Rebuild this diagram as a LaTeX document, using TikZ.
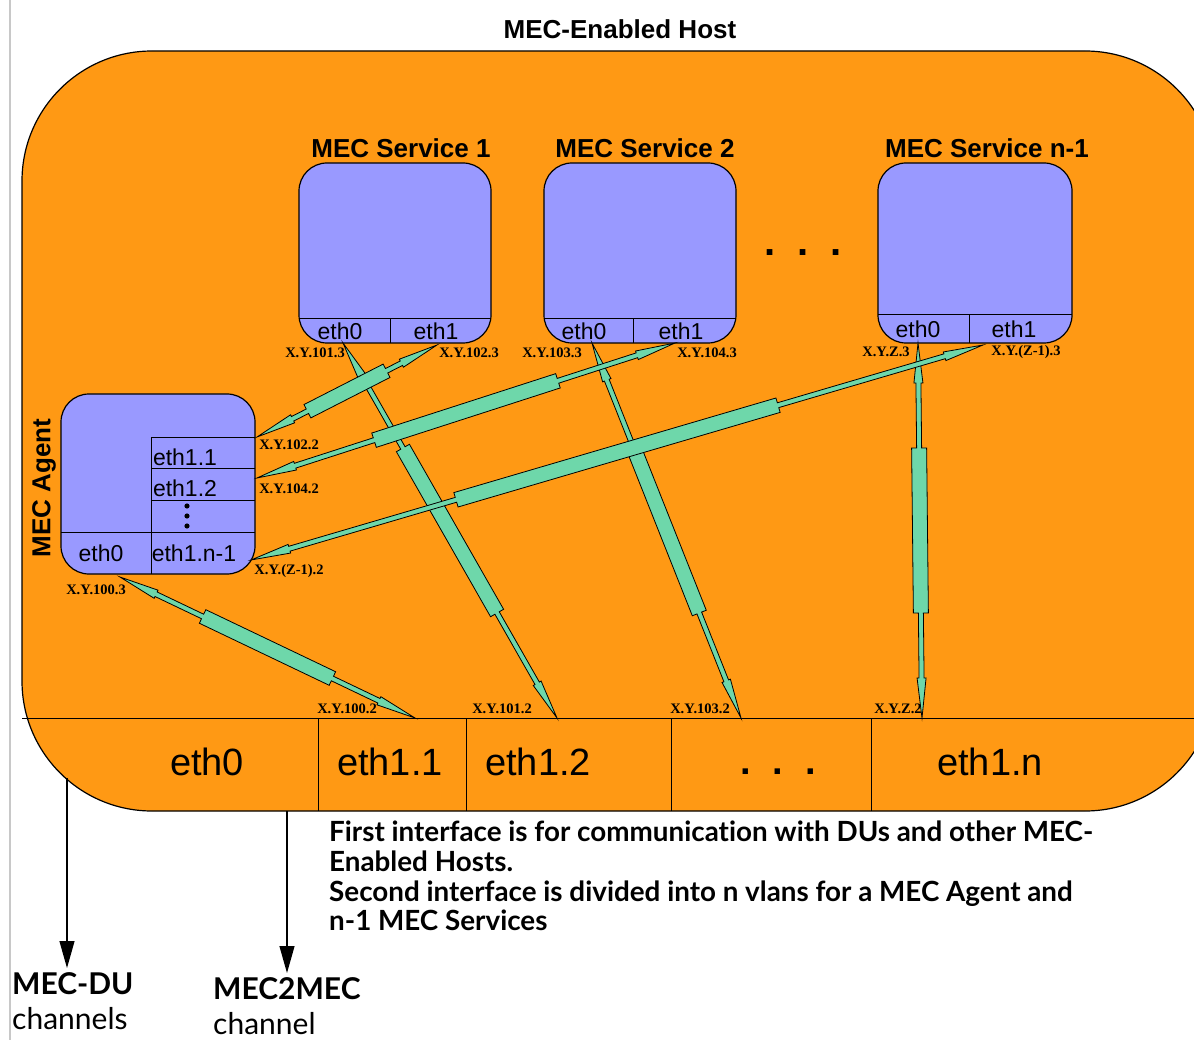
\documentclass[tikz,border=0pt]{standalone}
\usepackage{fontspec}
\setmainfont{Liberation Sans}
\newfontfamily\labfont{Liberation Serif}
\newfontfamily\latofont[Ligatures=NoCommon]{Lato}
\usetikzlibrary{calc,arrows.meta}
\definecolor{hostorange}{RGB}{255,153,20}
\definecolor{boxblue}{RGB}{153,153,255}
\definecolor{cablegreen}{RGB}{110,215,170}
\definecolor{pagegray}{RGB}{200,200,200}
\newcommand\mecCable[2]{%
  \draw[cablestyle] (#1)
   -- ($(#1)!40pt!(#2)!4.5pt!90:(#2)$)
   -- ($(#1)!40pt!(#2)!2.5pt!90:(#2)$)
   -- ($(#1)!0.28!(#2)!2.5pt!90:(#2)$)
   -- ($(#1)!0.28!(#2)!7.5pt!90:(#2)$)
   -- ($(#1)!0.72!(#2)!7.5pt!90:(#2)$)
   -- ($(#1)!0.72!(#2)!2.5pt!90:(#2)$)
   -- ($(#2)!40pt!(#1)!2.5pt!-90:(#1)$)
   -- ($(#2)!40pt!(#1)!4.5pt!-90:(#1)$)
   -- (#2)
   -- ($(#2)!40pt!(#1)!4.5pt!90:(#1)$)
   -- ($(#2)!40pt!(#1)!2.5pt!90:(#1)$)
   -- ($(#1)!0.72!(#2)!2.5pt!-90:(#2)$)
   -- ($(#1)!0.72!(#2)!7.5pt!-90:(#2)$)
   -- ($(#1)!0.28!(#2)!7.5pt!-90:(#2)$)
   -- ($(#1)!0.28!(#2)!2.5pt!-90:(#2)$)
   -- ($(#1)!40pt!(#2)!2.5pt!-90:(#2)$)
   -- ($(#1)!40pt!(#2)!4.5pt!-90:(#2)$)
   -- cycle;}
\tikzset{
  cablestyle/.style={fill=cablegreen, draw=black, line width=0.8pt, line join=miter},
  svcbox/.style={draw=black, line width=1.2pt, fill=boxblue, rounded corners=28pt, minimum height=180pt, inner sep=0pt},
  boxtitle/.style={font=\bfseries\fontsize{26}{30}\selectfont, inner sep=0pt},
  ethsmall/.style={font=\fontsize{23}{26}\selectfont, inner sep=0pt},
  ethbig/.style={font=\fontsize{38}{42}\selectfont, inner sep=0pt},
  addr/.style={font=\labfont\bfseries\fontsize{14.5}{16}\selectfont, inner sep=0pt},
  cellline/.style={draw=black, line width=1pt},
  chanarrow/.style={draw=black, line width=1.2pt, -{Triangle[width=15pt,length=27pt]}},
}
\begin{document}
\begin{tikzpicture}[x=1pt,y=-1pt]
\useasboundingbox (0,0) rectangle (1194,1040);
\clip (0,0) rectangle (1194,1040);
\fill[white] (0,0) rectangle (1194,1040);
\draw[pagegray, line width=1.5pt] (10,0) -- (10,1040);

% host
\draw[fill=hostorange, line width=1.2pt, rounded corners=130pt] (22,51) rectangle (1215,811);
\node[boxtitle] (title) at (620,29) {MEC-Enabled Host};

% bottom interface row
\draw[cellline] (22,718) -- (1194,718);
\foreach \xx in {318,466,671,871} \draw[cellline] (\xx,718) -- (\xx,811);
\node[ethbig] (heth0) at (207,762) {eth0};
\node[ethbig] (heth11) at (390,762) {eth1.1};
\node[ethbig] (heth12) at (538,762) {eth1.2};
\node[font=\bfseries\fontsize{38}{42}\selectfont, inner sep=0pt, anchor=base] (hdots) at (778,774) {.\kern22pt.\kern22pt.};
\node[ethbig] (heth1n) at (990,762) {eth1.n};

% services
\node[svcbox, minimum width=192pt] (s1) at (395,253) {};
\node[svcbox, minimum width=192pt] (s2) at (640,253) {};
\node[svcbox, minimum width=194pt] (sn) at (975,253) {};
\node[boxtitle] at (401,148) {MEC Service 1};
\node[boxtitle] at (645,148) {MEC Service 2};
\node[boxtitle] at (987,148) {MEC Service n-1};
\node[font=\bfseries\fontsize{40}{42}\selectfont, inner sep=0pt, anchor=base] (sdots) at (803,256) {.\kern22pt.\kern22pt.};

\begin{scope}
\clip[rounded corners=28pt] (299,163) rectangle (491,343);
\draw[cellline] (299,319) -- (491,319); \draw[cellline] (390,319) -- (390,343);
\end{scope}
\begin{scope}
\clip[rounded corners=28pt] (544,163) rectangle (736,343);
\draw[cellline] (544,319) -- (736,319); \draw[cellline] (633,319) -- (633,343);
\end{scope}
\begin{scope}
\clip[rounded corners=28pt] (878,163) rectangle (1072,343);
\draw[cellline] (878,315) -- (1072,315); \draw[cellline] (969,315) -- (969,343);
\end{scope}
\node[ethsmall] (s1e0) at (340,331) {eth0};
\node[ethsmall] (s1e1) at (436,331) {eth1};
\node[ethsmall] (s2e0) at (584,331) {eth0};
\node[ethsmall] (s2e1) at (681,331) {eth1};
\node[ethsmall] (sne0) at (918,329) {eth0};
\node[ethsmall] (sne1) at (1014,329) {eth1};

% agent
\node[svcbox, minimum width=194pt] (ag) at (158,484) {};
\begin{scope}
\clip[rounded corners=28pt] (61,394) rectangle (255,574);
\draw[cellline] (151,437) -- (255,437);
\draw[cellline] (151,468) -- (255,468);
\draw[cellline] (151,500) -- (255,500);
\draw[cellline] (61,532) -- (255,532);
\draw[cellline] (151,437) -- (151,574);
\end{scope}
\node[ethsmall] (ae11) at (185,457) {eth1.1};
\node[ethsmall] (ae12) at (185,488) {eth1.2};
\foreach \yy in {506,516,526} \fill (187,\yy) circle (2.6pt);
\node[ethsmall] (ae1n) at (194,553) {eth1.n-1};
\node[ethsmall] (ae0) at (101,553) {eth0};
\node[boxtitle, rotate=90] (agt) at (44,488) {MEC Agent};

% cable end points
\coordinate (ca0) at (120,577);  \coordinate (cb0) at (415,718);
\coordinate (c11a) at (343,343); \coordinate (c11b) at (557,718);
\coordinate (c12a) at (437,345); \coordinate (c12b) at (257,437);
\coordinate (c21a) at (592,343); \coordinate (c21b) at (741,718);
\coordinate (c22a) at (675,343); \coordinate (c22b) at (257,478);
\coordinate (cn1a) at (918,343); \coordinate (cn1b) at (922,718);
\coordinate (cn2a) at (983,345); \coordinate (cn2b) at (251,560);

\mecCable{ca0}{cb0}
\mecCable{c11a}{c11b}
\mecCable{c21a}{c21b}
\mecCable{cn1a}{cn1b}
\mecCable{c12a}{c12b}
\mecCable{c22a}{c22b}
\mecCable{cn2a}{cn2b}

% address labels
\node[addr] at (315,353) {X.Y.101.3};
\node[addr] at (469,353) {X.Y.102.3};
\node[addr] at (552,353) {X.Y.103.3};
\node[addr] at (707,353) {X.Y.104.3};
\node[addr] at (886,352) {X.Y.Z.3};
\node[addr] at (1026,352) {X.Y.(Z-1).3};
\node[addr] at (289,445) {X.Y.102.2};
\node[addr] at (289,489) {X.Y.104.2};
\node[addr] at (289,571) {X.Y.(Z-1).2};
\node[addr] at (96,590) {X.Y.100.3};
\node[addr] at (347,709) {X.Y.100.2};
\node[addr] at (502,709) {X.Y.101.2};
\node[addr] at (700,709) {X.Y.103.2};
\node[addr] at (898,709) {X.Y.Z.2};

% description
\node[anchor=north west, inner sep=0pt, align=left,
      font=\latofont\bfseries\fontsize{27.8}{29.7}\selectfont] (desc) at (329,821)
 {First interface is for communication with DUs and other MEC-\\
  Enabled Hosts.\\
  Second interface is divided into n vlans for a MEC Agent and\\
  n-1 MEC Services};

% channels
\node[anchor=north west, inner sep=0pt, align=left, font=\latofont\fontsize{30}{35}\selectfont] (du) at (12,972)
 {\bfseries MEC-DU\\ channels};
\node[anchor=north west, inner sep=0pt, align=left, font=\latofont\fontsize{30}{35}\selectfont] (m2m) at (213,977)
 {\bfseries MEC2MEC\\ channel};
\coordinate (duStart) at (67,778);
\coordinate (m2mStart) at (287,811);
\draw[chanarrow] (duStart) -- ($(duStart |- du.north)+(0,-4)$);
\draw[chanarrow] (m2mStart) -- ($(m2mStart |- m2m.north)+(0,-4)$);
\end{tikzpicture}
\end{document}
